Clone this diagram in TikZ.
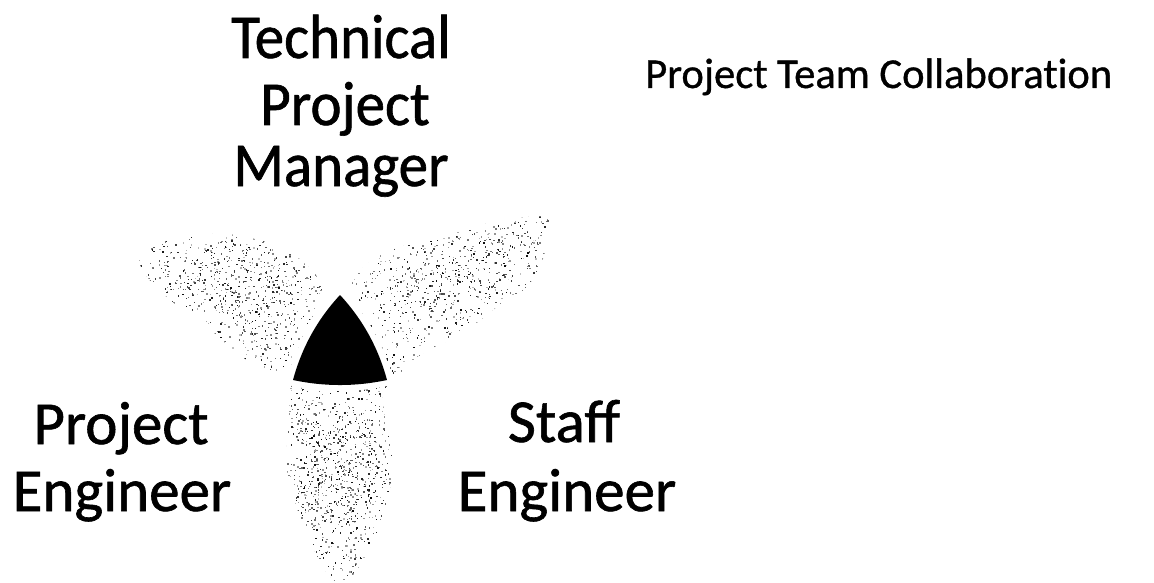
\documentclass[tikz,border=0pt]{standalone}
\usepackage{fontspec}
\setmainfont{Carlito}
\newfontfamily\scanfont[FakeBold=1]{Carlito}
\newfontfamily\scantitlefont[FakeBold=0.8,Ligatures=NoCommon]{Carlito}
\begin{document}
\begin{tikzpicture}[x=1pt,y=-1pt,
  toptext/.style={inner sep=0pt,anchor=base,font=\scanfont\fontsize{59}{60}\selectfont},
  bigtext/.style={inner sep=0pt,anchor=base,font=\scanfont\fontsize{61}{62}\selectfont},
  titletext/.style={inner sep=0pt,anchor=base west,font=\scantitlefont\fontsize{42.6}{44}\selectfont}]
\useasboundingbox (0,0) rectangle (1154,583);
\pgfmathsetseed{7}
% left petal
\begin{scope}
\clip plot[smooth cycle] coordinates {(140,258) (167,240) (230,234) (287,250) (317,276) (327,290) (305,330) (289,374) (247,360) (207,327) (170,300) (148,278)};
\foreach \i in {1,...,900}{
  \pgfmathsetmacro\px{138+rnd*192}
  \pgfmathsetmacro\py{232+rnd*145}
  \pgfmathsetmacro\g{int(25+rnd*70)}
  \fill[black!\g] (\px,\py) rectangle ++(1.4,1.4);
}
\end{scope}
\begin{scope}
\clip plot[smooth cycle] coordinates {(190,255) (250,245) (300,270) (295,320) (270,350) (230,320) (185,285)};
\foreach \i in {1,...,350}{
  \pgfmathsetmacro\px{180+rnd*125}
  \pgfmathsetmacro\py{240+rnd*115}
  \pgfmathsetmacro\g{int(40+rnd*60)}
  \fill[black!\g] (\px,\py) rectangle ++(1.4,1.4);
}
\end{scope}
% right petal
\begin{scope}
\clip plot[smooth cycle] coordinates {(352,283) (377,257) (413,243) (463,230) (500,221) (548,218) (545,253) (527,287) (497,307) (463,333) (423,353) (397,375) (383,370) (365,320)};
\foreach \i in {1,...,900}{
  \pgfmathsetmacro\px{348+rnd*205}
  \pgfmathsetmacro\py{215+rnd*165}
  \pgfmathsetmacro\g{int(25+rnd*70)}
  \fill[black!\g] (\px,\py) rectangle ++(1.4,1.4);
}
\end{scope}
\begin{scope}
\clip plot[smooth cycle] coordinates {(400,260) (460,240) (530,232) (520,270) (470,300) (420,320) (390,300)};
\foreach \i in {1,...,300}{
  \pgfmathsetmacro\px{385+rnd*150}
  \pgfmathsetmacro\py{228+rnd*95}
  \pgfmathsetmacro\g{int(40+rnd*60)}
  \fill[black!\g] (\px,\py) rectangle ++(1.4,1.4);
}
\end{scope}
% lower petal
\begin{scope}
\clip plot[smooth cycle] coordinates {(293,381) (383,381) (382,400) (393,467) (377,533) (357,570) (340,583) (323,567) (300,517) (287,467) (290,400)};
\foreach \i in {1,...,850}{
  \pgfmathsetmacro\px{285+rnd*110}
  \pgfmathsetmacro\py{378+rnd*206}
  \pgfmathsetmacro\g{int(25+rnd*70)}
  \fill[black!\g] (\px,\py) rectangle ++(1.4,1.4);
}
\end{scope}
\begin{scope}
\clip plot[smooth cycle] coordinates {(300,420) (370,420) (378,480) (360,520) (320,520) (298,480)};
\foreach \i in {1,...,300}{
  \pgfmathsetmacro\px{295+rnd*85}
  \pgfmathsetmacro\py{418+rnd*104}
  \pgfmathsetmacro\g{int(40+rnd*60)}
  \fill[black!\g] (\px,\py) rectangle ++(1.4,1.4);
}
\end{scope}
% central triangle
\path[draw=white,line width=12pt,line join=round] (293,380) .. controls (301.7,347.8) and (317.3,319.4) .. (340,295)
  .. controls (362.7,319.4) and (378.3,347.8) .. (387,380)
  .. controls (355.7,386.7) and (324.3,386.7) .. (293,380) -- cycle;
\fill[black] (293,380) .. controls (301.7,347.8) and (317.3,319.4) .. (340,295)
  .. controls (362.7,319.4) and (378.3,347.8) .. (387,380)
  .. controls (355.7,386.7) and (324.3,386.7) .. (293,380) -- cycle;
% labels
\node[toptext] (tpm1) at (341,58) {\scalebox{1}[1.06]{Technical}};
\node[toptext] (tpm2) at (345,125) {\scalebox{1}[1.06]{Project}};
\node[toptext] (tpm3) at (341,186) {\scalebox{1}[1.06]{Manager}};
\node[bigtext] (pe1) at (121,444) {Project};
\node[bigtext] (pe2) at (122,511) {Engineer};
\node[bigtext] (se1) at (564,442) {Staff};
\node[bigtext] (se2) at (567,511) {Engineer};
\node[titletext] (title) at (645,88) {Project Team Collaboration};
\end{tikzpicture}
\end{document}
